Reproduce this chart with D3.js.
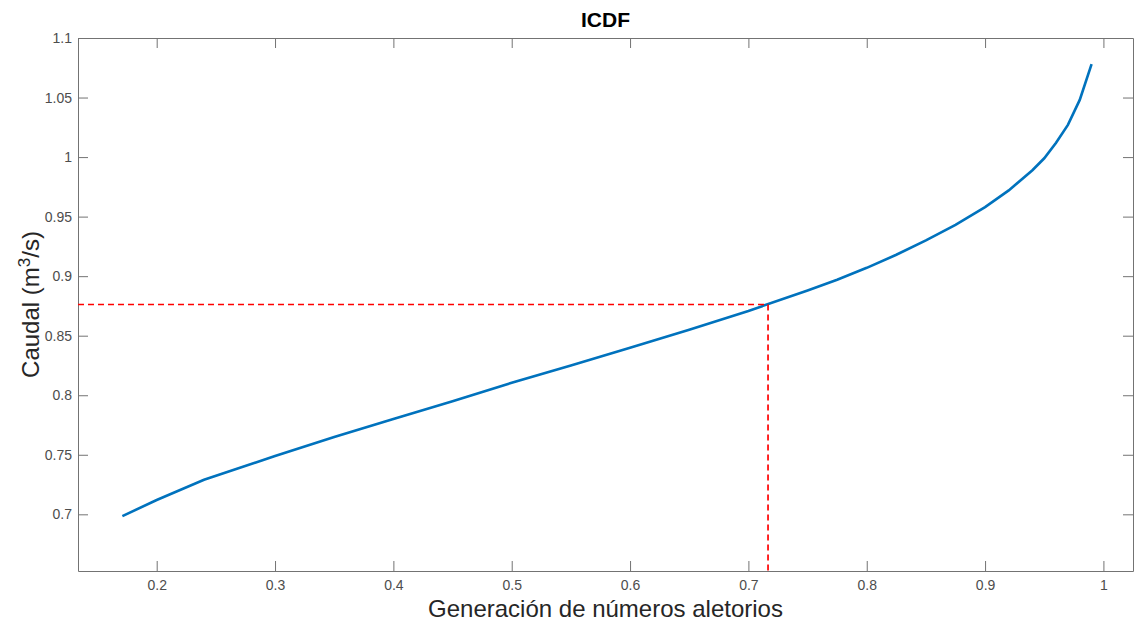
<!DOCTYPE html>
<html lang="es">
<head>
<meta charset="UTF-8">
<title>ICDF</title>
<script src="https://d3js.org/d3.v7.min.js"></script>
<style>
  body { margin: 0; background: #fff; }
  svg { display: block; font-family: "Liberation Sans", Arial, Helvetica, sans-serif; }
  .tick text { fill: #4d4d4d; }
  .tick line, .domain { stroke: #737373; }
</style>
</head>
<body>
<svg width="1135" height="622"></svg>
<script>
// probability (random number) and flow
const prob = [0.171, 0.20, 0.24, 0.30, 0.35, 0.40, 0.45, 0.50, 0.55, 0.60, 0.65, 0.70,
              0.75, 0.775, 0.80, 0.825, 0.85, 0.875, 0.90, 0.92, 0.94, 0.95, 0.96, 0.97, 0.98, 0.99];
const caudal = [0.6985, 0.712, 0.729, 0.749, 0.765, 0.780, 0.795, 0.8105, 0.825, 0.8398, 0.855, 0.8708,
                0.888, 0.897, 0.907, 0.918, 0.930, 0.943, 0.958, 0.972, 0.989, 0.999, 1.012, 1.027, 1.048, 1.078];

const xTicks = [0.2, 0.3, 0.4, 0.5, 0.6, 0.7, 0.8, 0.9, 1];
const yTicks = [0.7, 0.75, 0.8, 0.85, 0.9, 0.95, 1, 1.05, 1.1];

// selected point (red dashed guides)
const selP = 0.7166, selQ = 0.8762;

const svg = d3.select("svg");
const mLeft = 78, mRight = 1133, mTop = 38, mBottom = 571;

const x = d3.scaleLinear().domain([0.1335, 1.025]).range([mLeft, mRight]);
const y = d3.scaleLinear().domain([0.6524, 1.1]).range([mBottom, mTop]);

const fmt = d => String(+d.toFixed(2));

// axes, MATLAB style: box with inward ticks
const axes = [
  svg.append("g").attr("transform", `translate(0,${mBottom})`)
    .call(d3.axisBottom(x).tickValues(xTicks).tickFormat(fmt).tickSizeInner(-10).tickSizeOuter(0).tickPadding(9)),
  svg.append("g").attr("transform", `translate(0,${mTop})`)
    .call(d3.axisTop(x).tickValues(xTicks).tickFormat("").tickSizeInner(-10).tickSizeOuter(0)),
  svg.append("g").attr("transform", `translate(${mLeft},0)`)
    .call(d3.axisLeft(y).tickValues(yTicks).tickFormat(fmt).tickSizeInner(-10).tickSizeOuter(0).tickPadding(6)),
  svg.append("g").attr("transform", `translate(${mRight},0)`)
    .call(d3.axisRight(y).tickValues(yTicks).tickFormat("").tickSizeInner(-10).tickSizeOuter(0))
];
axes.forEach(a => a.attr("font-family", null).attr("font-size", 14));

// curve
const line = d3.line().x((d, i) => x(prob[i])).y(d => y(d));
svg.append("path")
  .datum(caudal)
  .attr("fill", "none")
  .attr("stroke", "#0072BD")
  .attr("stroke-width", 2.6)
  .attr("d", line);

// red guides
svg.append("line")
  .attr("x1", x.range()[0]).attr("x2", x(selP))
  .attr("y1", y(selQ)).attr("y2", y(selQ))
  .attr("stroke", "#ff0000").attr("stroke-width", 1.7).attr("stroke-dasharray", "6,4");
svg.append("line")
  .attr("x1", x(selP)).attr("x2", x(selP))
  .attr("y1", y(selQ)).attr("y2", y.range()[0])
  .attr("stroke", "#ff0000").attr("stroke-width", 1.7).attr("stroke-dasharray", "6,4");

// labels
svg.append("text")
  .attr("x", (mLeft + mRight) / 2).attr("y", 27)
  .attr("text-anchor", "middle")
  .attr("font-size", 21).attr("font-weight", "bold").attr("fill", "#000")
  .text("ICDF");

svg.append("text")
  .attr("x", (mLeft + mRight) / 2).attr("y", 617)
  .attr("text-anchor", "middle")
  .attr("font-size", 24).attr("fill", "#262626")
  .text("Generación de números aletorios");

const yl = svg.append("text")
  .attr("transform", `translate(39,${(mTop + mBottom) / 2}) rotate(-90)`)
  .attr("text-anchor", "middle")
  .attr("font-size", 24).attr("fill", "#262626");
yl.append("tspan").text("Caudal (m");
yl.append("tspan").attr("font-size", 17).attr("dy", -9).text("3");
yl.append("tspan").attr("dy", 9).text("/s)");
</script>
</body>
</html>
